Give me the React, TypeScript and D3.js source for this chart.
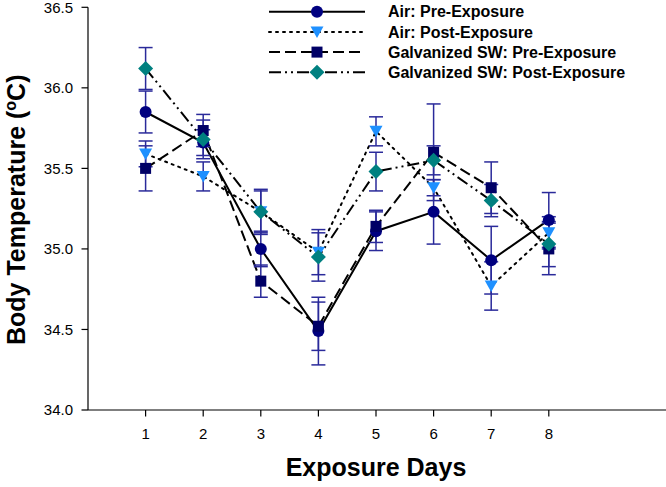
import React from "react";
import * as d3 from "d3";

const days = [1, 2, 3, 4, 5, 6, 7, 8];
const airPre = [35.85, 35.66, 35.0, 34.49, 35.11, 35.23, 34.93, 35.18];
const airPreErr = [0.13, 0.08, 0.11, 0.21, 0.12, 0.2, 0.21, 0.17];
const airPost = [35.59, 35.45, 35.23, 34.98, 35.73, 35.38, 34.77, 35.1];
const airPostErr = [0.08, 0.09, 0.14, 0.14, 0.09, 0.05, 0.15, 0.1];
const galvPre = [35.5, 35.735, 34.8, 34.52, 35.14, 35.6, 35.38, 35.0];
const galvPreErr = [0.14, 0.1, 0.1, 0.15, 0.1, 0.3, 0.16, 0.16];
const galvPost = [36.12, 35.68, 35.23, 34.95, 35.48, 35.55, 35.3, 35.03];
const galvPostErr = [0.13, 0.12, 0.13, 0.15, 0.12, 0.09, 0.1, 0.14];
const yTicks = [34.0, 34.5, 35.0, 35.5, 36.0, 36.5];
const seriesNames = [
  "Air: Pre-Exposure",
  "Air: Post-Exposure",
  "Galvanized SW: Pre-Exposure",
  "Galvanized SW: Post-Exposure",
];

const W = 666;
const H = 487;
const x = d3.scaleLinear().domain([0, 10]).range([88, 664]);
const y = d3.scaleLinear().domain([34, 36.5]).range([410, 7.3]);

const series = [
  { name: seriesNames[0], vals: airPre, err: airPreErr, dash: "none", marker: "circle", color: "#000080" },
  { name: seriesNames[1], vals: airPost, err: airPostErr, dash: "2,5", marker: "triangle", color: "#1E90FF" },
  { name: seriesNames[2], vals: galvPre, err: galvPreErr, dash: "11,5", marker: "square", color: "#000066" },
  { name: seriesNames[3], vals: galvPost, err: galvPostErr, dash: "12,4,2,4,2,4", marker: "diamond", color: "#008080" },
];

function Marker({ type, cx, cy, color }: { type: string; cx: number; cy: number; color: string }) {
  if (type === "circle") return <circle cx={cx} cy={cy} r={6} fill={color} />;
  if (type === "square") return <rect x={cx - 5.5} y={cy - 5.5} width={11} height={11} fill={color} />;
  if (type === "triangle")
    return <path d={`M${cx - 6.5},${cy - 5.5}L${cx + 6.5},${cy - 5.5}L${cx},${cy + 6}Z`} fill={color} />;
  return <path d={`M${cx},${cy - 7.5}L${cx + 7.5},${cy}L${cx},${cy + 7.5}L${cx - 7.5},${cy}Z`} fill={color} />;
}

export default function App() {
  const line = (vals: number[]) =>
    d3
      .line<number>()
      .x((_, i) => x(days[i]))
      .y((v) => y(v))(vals) as string;
  const errColor = "#2a2a9a";
  return (
    <svg
      width={W}
      height={H}
      style={{ position: "absolute", left: 0, top: 0, background: "#fff" }}
      fontFamily="'Liberation Sans', Arial, sans-serif"
    >
      {/* axes */}
      <line x1={x(0)} x2={x(0)} y1={y(34)} y2={y(36.5)} stroke="#000" strokeWidth={1.2} />
      <line x1={x(0)} x2={W} y1={y(34)} y2={y(34)} stroke="#000" strokeWidth={1.2} />
      {yTicks.map((t) => (
        <g key={t}>
          <line x1={x(0) - 6.5} x2={x(0)} y1={y(t)} y2={y(t)} stroke="#000" strokeWidth={1.2} />
          <text x={73} y={y(t)} dy="0.36em" textAnchor="end" fontSize={15}>
            {t.toFixed(1)}
          </text>
        </g>
      ))}
      {days.map((d) => (
        <g key={d}>
          <line x1={x(d)} x2={x(d)} y1={y(34)} y2={y(34) + 6.5} stroke="#000" strokeWidth={1.2} />
          <text x={x(d)} y={439} textAnchor="middle" fontSize={15}>
            {d}
          </text>
        </g>
      ))}
      <text x={376} y={476} textAnchor="middle" fontSize={25} fontWeight="bold">
        Exposure Days
      </text>
      <text transform={`translate(25,345) rotate(-90)`} textAnchor="start" fontSize={25} fontWeight="bold">
        Body Temperature (<tspan fontSize={16} dy="-9">o</tspan>
        <tspan dy="9">C)</tspan>
      </text>
      {/* lines */}
      {series.map((s) => (
        <path
          key={s.name}
          d={line(s.vals)}
          fill="none"
          stroke="#000"
          strokeWidth={2}
          strokeDasharray={s.dash}
          strokeLinecap={s.dash === "2,5" ? "round" : "butt"}
        />
      ))}
      {/* error bars */}
      {series.map((s) =>
        s.vals.map((v, i) => {
          const cx = x(days[i]);
          const t = y(v + s.err[i]);
          const b = y(v - s.err[i]);
          return (
            <g key={s.name + i} stroke={errColor} strokeWidth={1.5}>
              <line x1={cx} x2={cx} y1={t} y2={b} />
              <line x1={cx - 7} x2={cx + 7} y1={t} y2={t} />
              <line x1={cx - 7} x2={cx + 7} y1={b} y2={b} />
            </g>
          );
        })
      )}
      {/* markers */}
      {series.map((s) =>
        s.vals.map((v, i) => (
          <Marker key={s.name + "m" + i} type={s.marker} cx={x(days[i])} cy={y(v)} color={s.color} />
        ))
      )}
      {/* legend */}
      {series.map((s, i) => {
        const ly = 11.7 + i * 20.2;
        return (
          <g key={s.name + "leg"}>
            <line
              x1={269}
              x2={365}
              y1={ly}
              y2={ly}
              stroke="#000"
              strokeWidth={2}
              strokeDasharray={s.dash}
              strokeLinecap={s.dash === "2,5" ? "round" : "butt"}
            />
            <Marker type={s.marker} cx={317} cy={ly} color={s.color} />
            <text x={388} y={ly} dy="0.36em" fontSize={16} fontWeight="bold">
              {s.name}
            </text>
          </g>
        );
      })}
    </svg>
  );
}
